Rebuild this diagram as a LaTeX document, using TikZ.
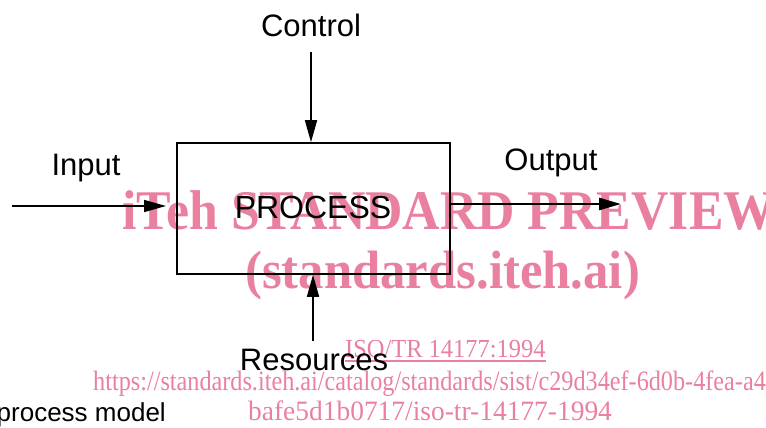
\documentclass[tikz,border=0pt]{standalone}
\usepackage{fontspec}
\setmainfont{Liberation Sans}
\newfontfamily\wmfont{Liberation Serif}
\usetikzlibrary{arrows.meta}
\definecolor{wmpink}{RGB}{234,128,160}
\begin{document}
\begin{tikzpicture}[x=1pt,y=-1pt,
  lbl/.style={inner sep=0pt,anchor=base,font=\fontsize{31}{32}\selectfont},
  flow/.style={line width=1.6pt,-{Triangle[length=22pt,width=12pt]}},
  wm/.style={inner sep=0pt,anchor=base west,text=wmpink},
  wmbig/.style={wm,font=\wmfont\bfseries\fontsize{56}{57}\selectfont},
  lnk/.style={wm,font=\wmfont\fontsize{28}{29}\selectfont}]
\useasboundingbox (0,0) rectangle (766,428);

% watermark text (drawn underneath)
\node[wmbig] (wm1) at (122,229) {\scalebox{0.925}[1]{iTeh STANDARD PREVIEW}};
\node[wmbig,font=\wmfont\bfseries\fontsize{54}{55}\selectfont] (wm2) at (245,288) {\scalebox{0.94}[1]{(standards.iteh.ai)}};
\node[lnk,font=\wmfont\fontsize{26}{27}\selectfont] (iso) at (345,357) {\scalebox{0.94}[1]{ISO/TR 14177:1994}};
\draw[wmpink,line width=1.2pt] ([yshift=-4pt]iso.base west) -- ([yshift=-4pt]iso.base east);
\node[lnk] (url1) at (93,390) {\scalebox{0.865}[1]{https://standards.iteh.ai/catalog/standards/sist/c29d34ef-6d0b-4fea-a4}};
\node[lnk] (url2) at (248,420) {\scalebox{0.98}[1]{bafe5d1b0717/iso-tr-14177-1994}};

% process box
\node[draw,line width=1.6pt,minimum width=273pt,minimum height=131pt,inner sep=0pt] (proc) at (313.5,208.5) {};
\node[lbl,font=\fontsize{32}{33}\selectfont] (proctxt) at (313,218) {PROCESS};

% labels
\node[lbl] (ctl) at (311,37) {Control};
\node[lbl] (inp) at (86,175) {Input};
\node[lbl] (outp) at (551,170) {Output};
\node[lbl] (res) at (314,370) {Resources};
\node[inner sep=0pt,anchor=base east,font=\fontsize{26}{27}\selectfont] (cap) at (166,421) {process model};

% connectors
\coordinate (ctlstart) at (311,52);
\coordinate (inpstart) at (12,206);
\coordinate (inptip) at (166,206);
\coordinate (outtip) at (621,204);
\coordinate (resstart) at (313,341);
\draw[flow] (ctlstart) -- (ctlstart |- proc.north);
\draw[flow] (inpstart) -- (inptip);
\draw[flow,line width=2.6pt] (proc.east |- outtip) -- (outtip);
\draw[flow] (resstart) -- (resstart |- proc.south);
\end{tikzpicture}
\end{document}
